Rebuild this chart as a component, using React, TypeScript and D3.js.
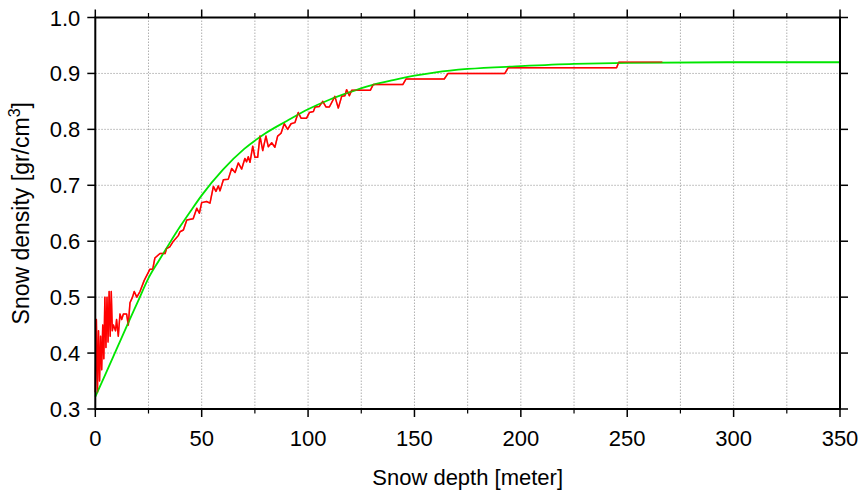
import React from "react";
import * as d3 from "d3";

// Measured profile (red)
const redDepth = [
  0, 0.5, 1.0, 1.5, 2.0, 2.5, 3.0, 3.5, 4.0, 4.5, 5.0, 5.5, 6.0, 6.5, 7.0, 7.5, 8.0, 8.5, 9.5, 10,
  10.8, 11.6, 12.4, 13.2, 14.7, 15.5, 16.3, 17.5, 18.3, 19.5, 21, 23, 25.7, 27, 28, 30.4, 32.8, 33.5,
  35, 36.7, 39, 39.8, 41.4, 43, 46, 47.7, 48.9, 50, 52.3, 53.9, 55.5, 56.7, 57.8, 58.6, 60.2, 62.5,
  64.1, 65.7, 67.2, 68.8, 70.3, 71.1, 71.9, 72.7, 74, 75, 76.3, 77.4, 78.7, 80.2, 81.3, 82.9, 84.4,
  85.7, 87.3, 88.8, 90.4, 92, 93.8, 95.4, 96.7, 99.3, 100.6, 102.5, 103.3, 105.3, 106.9, 108.4, 110,
  112.6, 114.2, 115.8, 117.3, 118.1, 119.4, 120.5, 129.3, 130.6, 144.5, 146, 164, 165.8, 192.5, 194,
  245, 246, 266.5,
];
const redDensity = [
  0.33, 0.46, 0.33, 0.44, 0.35, 0.43, 0.37, 0.45, 0.39, 0.5, 0.41, 0.5, 0.42, 0.51, 0.43, 0.51, 0.44,
  0.45, 0.44, 0.46, 0.43, 0.47, 0.46, 0.47, 0.47, 0.45, 0.49, 0.5, 0.51, 0.5, 0.51, 0.53, 0.55, 0.55,
  0.57, 0.578, 0.578, 0.587, 0.59, 0.6, 0.61, 0.617, 0.62, 0.638, 0.64, 0.659, 0.65, 0.669, 0.671,
  0.668, 0.698, 0.689, 0.699, 0.69, 0.71, 0.711, 0.73, 0.723, 0.74, 0.729, 0.748, 0.742, 0.751,
  0.741, 0.77, 0.75, 0.75, 0.788, 0.762, 0.788, 0.769, 0.776, 0.768, 0.788, 0.793, 0.81, 0.8, 0.81,
  0.812, 0.83, 0.82, 0.82, 0.83, 0.832, 0.84, 0.841, 0.85, 0.84, 0.84, 0.859, 0.838, 0.859, 0.86,
  0.871, 0.86, 0.87, 0.87, 0.88, 0.88, 0.89, 0.89, 0.9, 0.9, 0.91, 0.91, 0.92, 0.92,
];

// Fitted curve (green)
const greenDepth = [0, 5, 10, 15, 20, 25, 30, 35, 40, 45, 50, 60, 70, 80, 90, 100, 110, 120, 130, 140, 150, 160, 175, 200, 225, 250, 300, 350];
const greenDensity = [
  0.322, 0.364, 0.407, 0.45, 0.492, 0.534, 0.566, 0.597, 0.627, 0.655, 0.682, 0.728, 0.765, 0.793,
  0.815, 0.836, 0.853, 0.867, 0.879, 0.888, 0.896, 0.902, 0.908, 0.913, 0.917, 0.919, 0.92, 0.92,
];

const xMajorTicks = [0, 50, 100, 150, 200, 250, 300, 350];
const xMinorTicks = [25, 75, 125, 175, 225, 275, 325];
const yTicks = [0.3, 0.4, 0.5, 0.6, 0.7, 0.8, 0.9, 1.0];

const W = 859;
const H = 491;
const M = { left: 95.3, right: 19, top: 17.5, bottom: 82 };

export default function App() {
  const x = d3.scaleLinear().domain([0, 350]).range([M.left, W - M.right]);
  const y = d3.scaleLinear().domain([0.3, 1.0]).range([H - M.bottom, M.top]);

  const red = redDepth.map((d, i) => [d, redDensity[i]] as [number, number]);
  const green = greenDepth.map((d, i) => [d, greenDensity[i]] as [number, number]);

  const lineRed = d3.line<[number, number]>().x((d) => x(d[0])).y((d) => y(d[1]));
  const lineGreen = d3
    .line<[number, number]>()
    .x((d) => x(d[0]))
    .y((d) => y(d[1]))
    .curve(d3.curveMonotoneX);

  const x0 = x(0), x1 = x(350), y0 = y(0.3), y1 = y(1.0);
  const font = "'Liberation Sans', Arial, Helvetica, sans-serif";
  const gridStyle = { stroke: "#b0b0b0", strokeWidth: 1, strokeDasharray: "1.5,1.5" };

  return (
    <svg
      width={W}
      height={H}
      style={{ position: "fixed", left: 0, top: 0, display: "block", background: "#fff" }}
      fontFamily={font}
    >
      <rect x={0} y={0} width={W} height={H} fill="#fff" />
      {/* grid */}
      {[...xMinorTicks, ...xMajorTicks.slice(1, -1)].map((t) => (
        <line key={"gx" + t} x1={x(t)} x2={x(t)} y1={y1} y2={y0} {...gridStyle} />
      ))}
      {yTicks.slice(1, -1).map((t) => (
        <line key={"gy" + t} x1={x0} x2={x1} y1={y(t)} y2={y(t)} {...gridStyle} />
      ))}

      {/* data */}
      <path d={lineRed(red) || ""} fill="none" stroke="#ff0000" strokeWidth={1.5} strokeLinejoin="round" />
      <path d={lineGreen(green) || ""} fill="none" stroke="#00e600" strokeWidth={1.8} />
      <path d={lineRed(red) || ""} fill="none" stroke="#ff0000" strokeWidth={1.5} strokeOpacity={0.45} strokeLinejoin="round" />

      {/* ticks */}
      {xMajorTicks.map((t) => (
        <g key={"xt" + t}>
          <line x1={x(t)} x2={x(t)} y1={y0} y2={y0 + 8} stroke="#000" strokeWidth={1.5} />
          <line x1={x(t)} x2={x(t)} y1={y1} y2={y1 - 8} stroke="#000" strokeWidth={1.5} />
          <text x={x(t)} y={y0 + 37} textAnchor="middle" fontSize={22} fill="#000">
            {t}
          </text>
        </g>
      ))}
      {xMinorTicks.map((t) => (
        <g key={"xm" + t}>
          <line x1={x(t)} x2={x(t)} y1={y0} y2={y0 + 4.5} stroke="#000" strokeWidth={1.2} />
          <line x1={x(t)} x2={x(t)} y1={y1} y2={y1 - 4.5} stroke="#000" strokeWidth={1.2} />
        </g>
      ))}
      {yTicks.map((t) => (
        <g key={"yt" + t}>
          <line x1={x0} x2={x0 - 8} y1={y(t)} y2={y(t)} stroke="#000" strokeWidth={1.5} />
          <line x1={x1} x2={x1 + 8} y1={y(t)} y2={y(t)} stroke="#000" strokeWidth={1.5} />
          <text x={x0 - 15} y={y(t) + 8} textAnchor="end" fontSize={22} fill="#000">
            {t.toFixed(1)}
          </text>
        </g>
      ))}

      {/* frame */}
      <rect x={x0} y={y1} width={x1 - x0} height={y0 - y1} fill="none" stroke="#000" strokeWidth={2} />

      {/* titles */}
      <text x={(x0 + x1) / 2} y={485} textAnchor="middle" fontSize={22} fill="#000">
        Snow depth [meter]
      </text>
      <text
        transform={`translate(29,${(y0 + y1) / 2}) rotate(-90)`}
        textAnchor="middle"
        fontSize={23}
        fill="#000"
      >
        Snow density [gr/cm
        <tspan fontSize={16} dy={-9}>3</tspan>
        <tspan dy={9}>]</tspan>
      </text>
    </svg>
  );
}
